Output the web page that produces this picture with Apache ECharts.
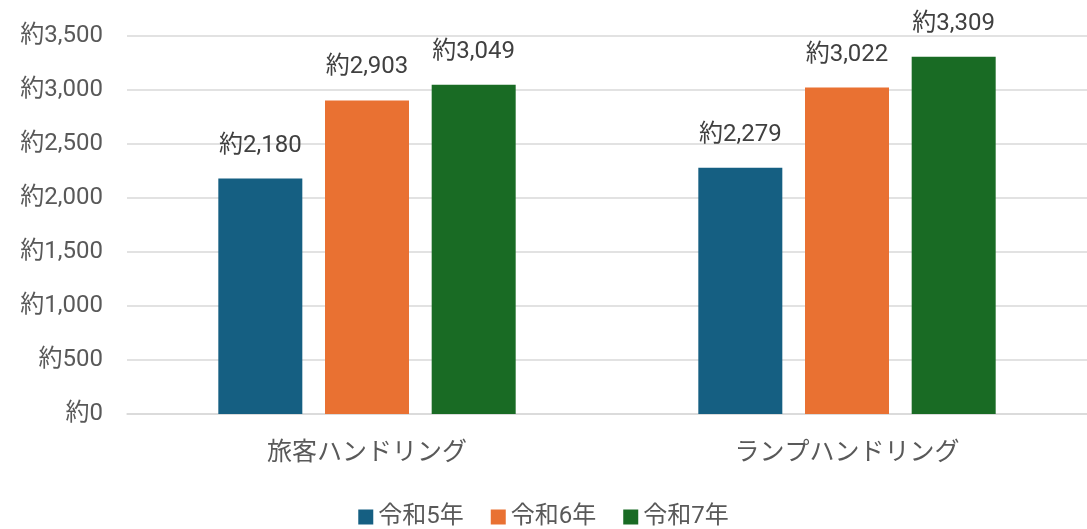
<!DOCTYPE html>
<html>
<head>
<meta charset="utf-8">
<script src="https://cdn.jsdelivr.net/npm/echarts@6/dist/echarts.min.js"></script>
<style>
  html, body { margin: 0; padding: 0; background: #fff; }
  #chart { width: 1087px; height: 529px; }
</style>
</head>
<body>
<div id="chart"></div>
<script>
const categories = ['旅客ハンドリング', 'ランプハンドリング'];
const seriesNames = ['令和5年', '令和6年', '令和7年'];
const r5 = [2180, 2279];
const r6 = [2903, 3022];
const r7 = [3049, 3309];
const colors = ['#155F82', '#E97132', '#196B24'];

const font = "Roboto, 'Noto Sans CJK JP', sans-serif";
const fmt = v => '約' + v.toLocaleString('en-US');

const myChart = echarts.init(document.getElementById('chart'));

function bar(name, data, color) {
  return {
    name: name,
    type: 'bar',
    data: data,
    barWidth: 84,
    barGap: '27%',
    itemStyle: { color: color },
    label: {
      show: true,
      position: 'top',
      distance: 21,
      color: '#404040',
      fontSize: 24,
      fontFamily: font,
      formatter: p => fmt(p.value)
    }
  };
}

const option = {
  animation: false,
  textStyle: { fontFamily: font },
  grid: { left: 127, right: 0, top: 36, bottom: 115 },
  legend: {
    bottom: -5,
    itemWidth: 15,
    itemHeight: 15,
    itemGap: 27,
    icon: 'rect',
    textStyle: { fontSize: 24, color: '#595959', fontFamily: font },
    data: seriesNames
  },
  xAxis: {
    type: 'category',
    data: categories,
    axisTick: { show: false },
    axisLine: { lineStyle: { color: '#d9d9d9', width: 1.5 } },
    axisLabel: { fontSize: 25, color: '#595959', margin: 27, fontFamily: font }
  },
  yAxis: {
    type: 'value',
    min: 0,
    max: 3500,
    interval: 500,
    axisLine: { show: false },
    axisTick: { show: false },
    splitLine: { lineStyle: { color: '#d9d9d9', width: 1.5 } },
    axisLabel: {
      fontSize: 24,
      color: '#595959',
      margin: 24,
      fontFamily: font,
      formatter: v => fmt(v)
    }
  },
  series: [
    bar(seriesNames[0], r5, colors[0]),
    bar(seriesNames[1], r6, colors[1]),
    bar(seriesNames[2], r7, colors[2])
  ]
};

myChart.setOption(option);
</script>
</body>
</html>
